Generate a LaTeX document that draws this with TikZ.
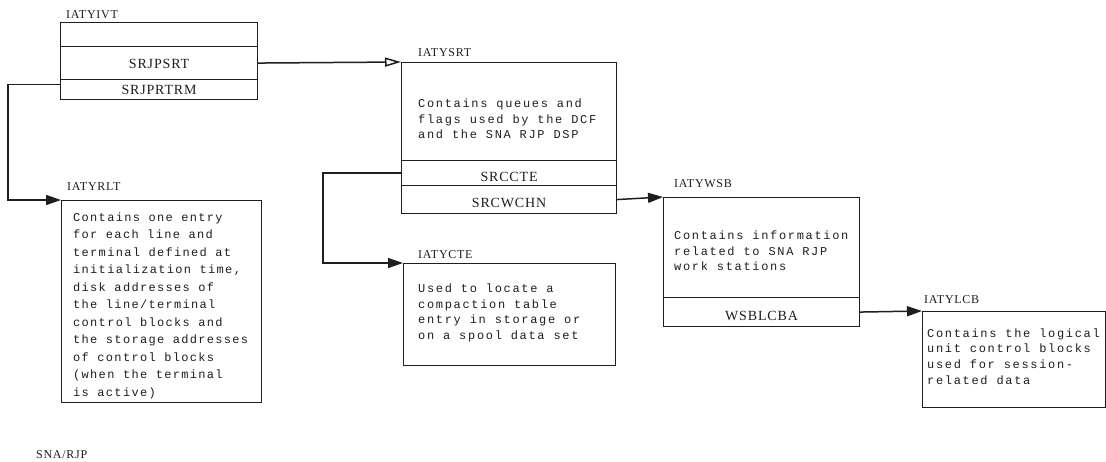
\documentclass[tikz,border=0pt]{standalone}
\usepackage{fontspec}
\setmainfont{Liberation Serif}
\newfontfamily\bodyfont[LetterSpace=14]{Liberation Mono}
\newfontfamily\bodyfontn[LetterSpace=11]{Liberation Mono}
\newfontfamily\fieldfont[LetterSpace=6]{Liberation Serif}
\usetikzlibrary{arrows.meta}
\definecolor{ink}{HTML}{1E1E1E}
\tikzset{
  box/.style={draw=ink, line width=1.1pt, rectangle, inner sep=0pt, anchor=north west},
  fieldtext/.style={text=ink, inner sep=0pt, font={\fieldfont\fontsize{14}{16}\selectfont}},
  hdr/.style={text=ink, inner sep=0pt, anchor=west, font={\fieldfont\fontsize{12}{14}\selectfont}},
  body/.style={text=ink, inner sep=0pt, anchor=west, align=left, font={\bodyfont\fontsize{12}{15.7}\selectfont}},
  conn/.style={draw=ink, line width=1.5pt},
  openarrow/.style={conn, -{Triangle[open, length=16pt, width=9pt, fill=white]}},
  fullarrow/.style={conn, -{Triangle[length=15pt, width=10pt]}}
}
\begin{document}
\begin{tikzpicture}[x=1pt,y=-1pt]
\useasboundingbox (0,0) rectangle (1106,461);

% IATYIVT
\node[hdr] (hivt) at (66,15) {IATYIVT};
\node[box, minimum width=197pt, minimum height=24pt] (ivt0) at (60,22) {};
\node[box, minimum width=197pt, minimum height=33pt] (ivt1) at (60,46) {};
\node[box, minimum width=197pt, minimum height=20pt] (ivt2) at (60,79) {};
\node[fieldtext, yshift=-1pt] (tivt1) at (ivt1.center) {SRJPSRT};
\node[fieldtext] (tivt2) at (ivt2.center) {SRJPRTRM};

% IATYSRT
\node[hdr] (hsrt) at (418,53) {IATYSRT};
\node[box, minimum width=215pt, minimum height=98pt] (srt0) at (401,62) {};
\node[box, minimum width=215pt, minimum height=25pt] (srt1) at (401,160) {};
\node[box, minimum width=215pt, minimum height=28pt] (srt2) at (401,185) {};
\node[body] (bsrt) at (418,119) {Contains queues and\\flags used by the DCF\\and the SNA RJP DSP};
\node[fieldtext, yshift=-4pt] (tsrt1) at (srt1.center) {SRCCTE};
\node[fieldtext, yshift=-3pt] (tsrt2) at (srt2.center) {SRCWCHN};

% IATYRLT
\node[hdr] (hrlt) at (67,187) {IATYRLT};
\node[box, minimum width=200pt, minimum height=202pt] (rlt) at (61,200) {};
\node[body, font={\bodyfontn\fontsize{12}{17.5}\selectfont}] (brlt) at (73,305.5) {Contains one entry\\for each line and\\terminal defined at\\initialization time,\\disk addresses of\\the line/terminal\\control blocks and\\the storage addresses\\of control blocks\\(when the terminal\\is active)};

% IATYCTE
\node[hdr] (hcte) at (418,255) {IATYCTE};
\node[box, minimum width=212pt, minimum height=102pt] (cte) at (403,263) {};
\node[body] (bcte) at (418,313) {Used to locate a\\compaction table\\entry in storage or\\on a spool data set};

% IATYWSB
\node[hdr] (hwsb) at (674,184) {IATYWSB};
\node[box, minimum width=196pt, minimum height=100pt] (wsb0) at (663,197) {};
\node[box, minimum width=196pt, minimum height=29pt] (wsb1) at (663,297) {};
\node[body] (bwsb) at (674,251) {Contains information\\related to SNA RJP\\work stations};
\node[fieldtext, yshift=-4pt] (twsb1) at (wsb1.center) {WSBLCBA};

% IATYLCB
\node[hdr] (hlcb) at (924,300) {IATYLCB};
\node[box, minimum width=182.5pt, minimum height=96pt] (lcb) at (922,311) {};
\node[body] (blcb) at (927,356.5) {Contains the logical\\unit control blocks\\used for session-\\related data};

% footer
\node[hdr] (foot) at (36,455) {SNA/RJP};

% connectors
\draw[openarrow] (ivt1.east) -- (srt0.north west);
\draw[fullarrow] ([yshift=5pt]ivt2.west) -- ++(-52,0) |- (rlt.north west);
\draw[fullarrow] (srt1.west) -- ++(-78,0) |- (cte.north west);
\draw[fullarrow] (srt2.east) -- (wsb0.north west);
\draw[fullarrow] (wsb1.east) -- (lcb.north west);
\end{tikzpicture}
\end{document}
